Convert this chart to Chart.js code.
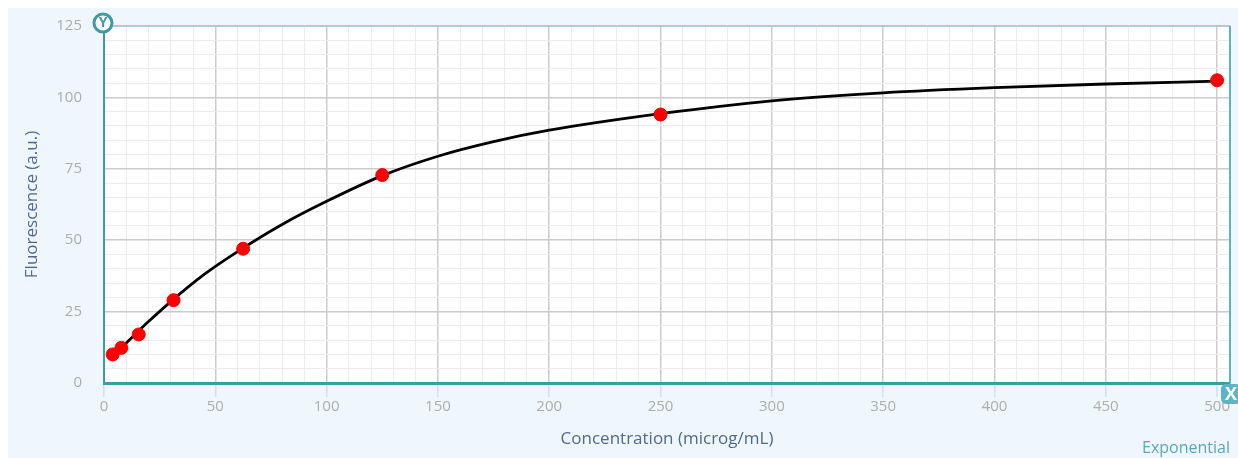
<!DOCTYPE html>
<html>
<head>
<meta charset="utf-8">
<script src="https://cdn.jsdelivr.net/npm/chart.js@4/dist/chart.umd.min.js"></script>
<style>
  html, body { margin: 0; padding: 0; background: #fff; }
  #wrap { width: 1238px; height: 458px; }
</style>
</head>
<body>
<div id="wrap"><canvas id="chart" width="1238" height="458"></canvas></div>
<script>
// measured points
const concX = [3.9, 7.8, 15.6, 31.25, 62.5, 125, 250, 500];
const fluorY = [10, 12.3, 17, 29, 47, 72.8, 94, 106];

// fitted exponential curve
const fitX = [4, 10, 20, 30, 45, 60, 80, 100, 125, 150, 175, 200, 250, 300, 350, 400, 450, 500];
const fitY = [9.5, 14, 21.5, 28.5, 38, 46, 55.5, 63.6, 72.6, 79.4, 84.5, 88.5, 94.3, 98.8, 101.6, 103.4, 104.7, 105.7];

const xMax = 505.8;
const yMax = 125;

const FONT = '"Open Sans", sans-serif';
const TEAL = '#3d9ba5';

const framePlugin = {
    id: 'frame',
    beforeDraw(chart) {
        const ctx = chart.ctx;
        const a = chart.chartArea;
        ctx.save();
        ctx.fillStyle = '#eff7fd';
        ctx.fillRect(8, 8, chart.width - 8, chart.height - 8);
        ctx.fillStyle = '#ffffff';
        ctx.fillRect(a.left, a.top, a.right - a.left, a.bottom - a.top);
        ctx.restore();
    },
    afterDraw(chart) {
        const ctx = chart.ctx;
        const a = chart.chartArea;
        ctx.save();
        // top and right borders
        ctx.strokeStyle = '#a9c6cf';
        ctx.lineWidth = 1.5;
        ctx.beginPath();
        ctx.moveTo(a.left, a.top);
        ctx.lineTo(a.right, a.top);
        ctx.stroke();
        ctx.strokeStyle = '#5bb5c4';
        ctx.lineWidth = 2;
        ctx.beginPath();
        ctx.moveTo(a.right, a.top);
        ctx.lineTo(a.right, a.bottom);
        ctx.stroke();

        // Y badge
        ctx.fillStyle = '#ffffff';
        ctx.strokeStyle = TEAL;
        ctx.lineWidth = 3;
        ctx.beginPath();
        ctx.arc(a.left - 1, a.top - 3, 9, 0, Math.PI * 2);
        ctx.fill();
        ctx.stroke();
        ctx.fillStyle = TEAL;
        ctx.font = 'bold 14px ' + FONT;
        ctx.textAlign = 'center';
        ctx.textBaseline = 'middle';
        ctx.fillText('Y', a.left - 1, a.top - 3);

        // X badge
        const bx = a.right + 1, by = a.bottom + 11;
        ctx.fillStyle = '#5bb5c4';
        ctx.beginPath();
        ctx.roundRect(bx - 10, by - 10, 20, 20, 5);
        ctx.fill();
        ctx.fillStyle = '#ffffff';
        ctx.font = 'bold 18px ' + FONT;
        ctx.fillText('X', bx, by + 1);

        // model label
        ctx.fillStyle = '#5ba8b8';
        ctx.font = '16px ' + FONT;
        ctx.textAlign = 'right';
        ctx.textBaseline = 'alphabetic';
        ctx.fillText('Exponential', a.right, chart.height - 5);
        ctx.restore();
    }
};

new Chart(document.getElementById('chart'), {
    type: 'scatter',
    data: {
        datasets: [{
            label: 'Data',
            data: concX.map((x, i) => ({ x: x, y: fluorY[i] })),
            backgroundColor: '#ff0000',
            borderColor: '#ff0000',
            pointRadius: 6.5,
            pointHoverRadius: 6.5,
            showLine: false,
            order: 0
        }, {
            label: 'Fit',
            data: fitX.map((x, i) => ({ x: x, y: fitY[i] })),
            borderColor: '#000000',
            borderWidth: 2.8,
            pointRadius: 0,
            showLine: true,
            cubicInterpolationMode: 'monotone',
            order: 1
        }]
    },
    options: {
        responsive: false,
        animation: false,
        layout: { padding: { left: 8, top: 26, right: 8, bottom: 0 } },
        plugins: {
            legend: { display: false },
            tooltip: { enabled: false }
        },
        scales: {
            x: {
                type: 'linear',
                min: 0,
                max: xMax,
                afterFit(scale) { scale.height = 75; },
                border: { color: TEAL, width: 3 },
                grid: {
                    color: c => (c.tick && c.tick.value % 50 === 0) ? '#cccccc' : '#ececec',
                    lineWidth: c => (c.tick && c.tick.value % 50 === 0) ? 1.5 : 1,
                    tickColor: c => (c.tick && c.tick.value % 50 === 0) ? '#cfe2f0' : 'rgba(0,0,0,0)',
                    tickLength: 14
                },
                ticks: {
                    stepSize: 10,
                    autoSkip: false,
                    includeBounds: false,
                    maxRotation: 0,
                    padding: 1,
                    color: '#adadad',
                    font: { family: FONT, size: 15 },
                    callback: v => (v % 50 === 0 ? String(v) : '')
                },
                title: {
                    display: true,
                    text: 'Concentration (microg/mL)',
                    color: '#4e6a93',
                    font: { family: FONT, size: 17 },
                    padding: { top: 0, bottom: 9 }
                }
            },
            y: {
                type: 'linear',
                min: 0,
                max: yMax,
                afterFit(scale) {
                    scale.width = 96;
                    scale.paddingTop = 0;
                    scale.paddingBottom = 0;
                },
                border: { color: TEAL, width: 2 },
                grid: {
                    color: c => (c.tick && c.tick.value % 25 === 0) ? '#cccccc' : '#ececec',
                    lineWidth: c => (c.tick && c.tick.value % 25 === 0) ? 1.5 : 1,
                    drawTicks: false
                },
                ticks: {
                    stepSize: 5,
                    autoSkip: false,
                    padding: 22,
                    color: '#adadad',
                    font: { family: FONT, size: 15 },
                    callback: v => (v % 25 === 0 ? String(v) : '')
                },
                title: {
                    display: true,
                    text: 'Fluorescence (a.u.)',
                    color: '#4e6a93',
                    font: { family: FONT, size: 17 },
                    padding: { top: 14, bottom: 0 }
                }
            }
        }
    },
    plugins: [framePlugin]
});
</script>
</body>
</html>
